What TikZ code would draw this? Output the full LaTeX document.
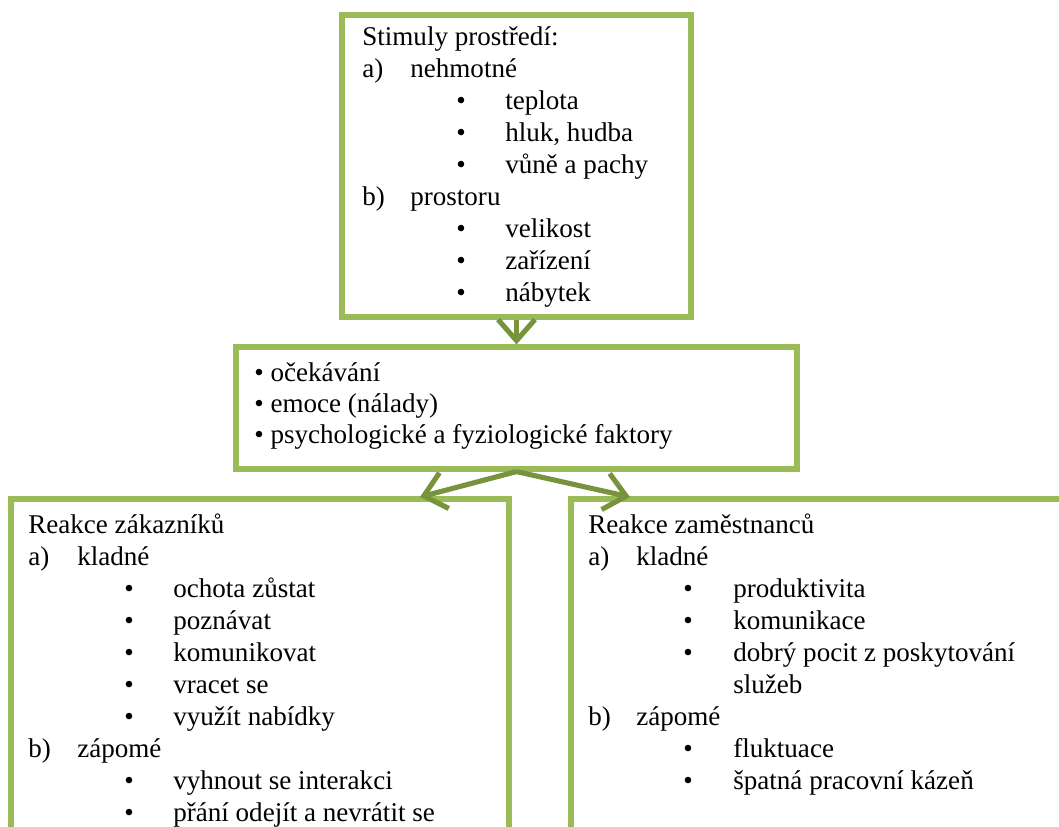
\documentclass[tikz,border=0pt]{standalone}
\usepackage{fontspec}
\setmainfont{Liberation Serif}
\usetikzlibrary{arrows.meta,positioning,fit}
\definecolor{boxgreen}{HTML}{9BBB59}
\definecolor{arrowgreen}{HTML}{77933C}

\begin{document}
\begin{tikzpicture}[x=.02cm,y=-.02cm,font=\fontsize{15.4}{18}\selectfont,
    box/.style={draw=boxgreen,line width=2.9pt,inner sep=0pt},
    txt/.style={anchor=base west,inner sep=0pt},
    flow/.style={arrowgreen,line width=2.9pt,-{Straight Barb[length=12pt,width=21pt]}}]
  \useasboundingbox (0,0) rectangle (1059,826);
  % boxes (the lower two run off the page)
  \begin{scope}
    \clip (0,0) rectangle (1059,826);
    \node[box,fit={(342,15) (691,317)}] (stimuly) {};
    \node[box,fit={(236,347) (797,469)}] (faktory) {};
    \node[box,fit={(11,499) (509,880)}] (zakaznici) {};
    \node[box,fit={(571,499) (1100,880)}] (zamestnanci) {};
  \end{scope}
  \coordinate (inZak) at (420,497);
  \coordinate (inZam) at (630,497);
  \draw[flow] (stimuly.south) -- (faktory.north);
  \draw[flow] (faktory.south) -- (inZak);
  \draw[flow] (faktory.south) -- (inZam);
  % stimuly
  \node[txt] (st0) at (362,45) {Stimuly prostředí:};
  \foreach \y/\l/\t [count=\i] in {77/{a)}/nehmotné,205/{b)}/prostoru}{
    \node[txt] (stl\i) at (362,\y) {\l};
    \node[txt] (sth\i) at (410,\y) {\t};}
  \foreach \y/\t [count=\i] in {109/teplota,141/{hluk, hudba},173/{vůně a pachy},237/velikost,269/zařízení,301/nábytek}{
    \node[txt] (stb\i) at (456,\y) {•};
    \node[txt] (sti\i) at (505,\y) {\t};}
  % faktory
  \foreach \y/\t [count=\i] in {381/očekávání,412/{emoce (nálady)},443/{psychologické a fyziologické faktory}}
    \node[txt] (fak\i) at (254,\y) {• \t};
  % reakce zakazniku
  \node[txt] (zk0) at (28,533) {Reakce zákazníků};
  \foreach \y/\l/\t [count=\i] in {565/{a)}/kladné,757/{b)}/zápomé}{
    \node[txt] (zkl\i) at (28,\y) {\l};
    \node[txt] (zkh\i) at (77,\y) {\t};}
  \foreach \y/\t [count=\i] in {597/{ochota zůstat},629/poznávat,661/komunikovat,693/{vracet se},725/{využít nabídky},789/{vyhnout se interakci},821/{přání odejít a nevrátit se}}{
    \node[txt] (zkb\i) at (124,\y) {•};
    \node[txt] (zki\i) at (173,\y) {\t};}
  % reakce zamestnancu
  \node[txt] (zm0) at (588,533) {Reakce zaměstnanců};
  \foreach \y/\l/\t [count=\i] in {565/{a)}/kladné,725/{b)}/zápomé}{
    \node[txt] (zml\i) at (588,\y) {\l};
    \node[txt] (zmh\i) at (636,\y) {\t};}
  \foreach \y/\t [count=\i] in {597/produktivita,629/komunikace,661/{dobrý pocit z poskytování},757/fluktuace,789/{špatná pracovní kázeň}}{
    \node[txt] (zmb\i) at (683,\y) {•};
    \node[txt] (zmi\i) at (733,\y) {\t};}
  \node[txt] (zmi0) at (733,693) {služeb};
\end{tikzpicture}
\end{document}
